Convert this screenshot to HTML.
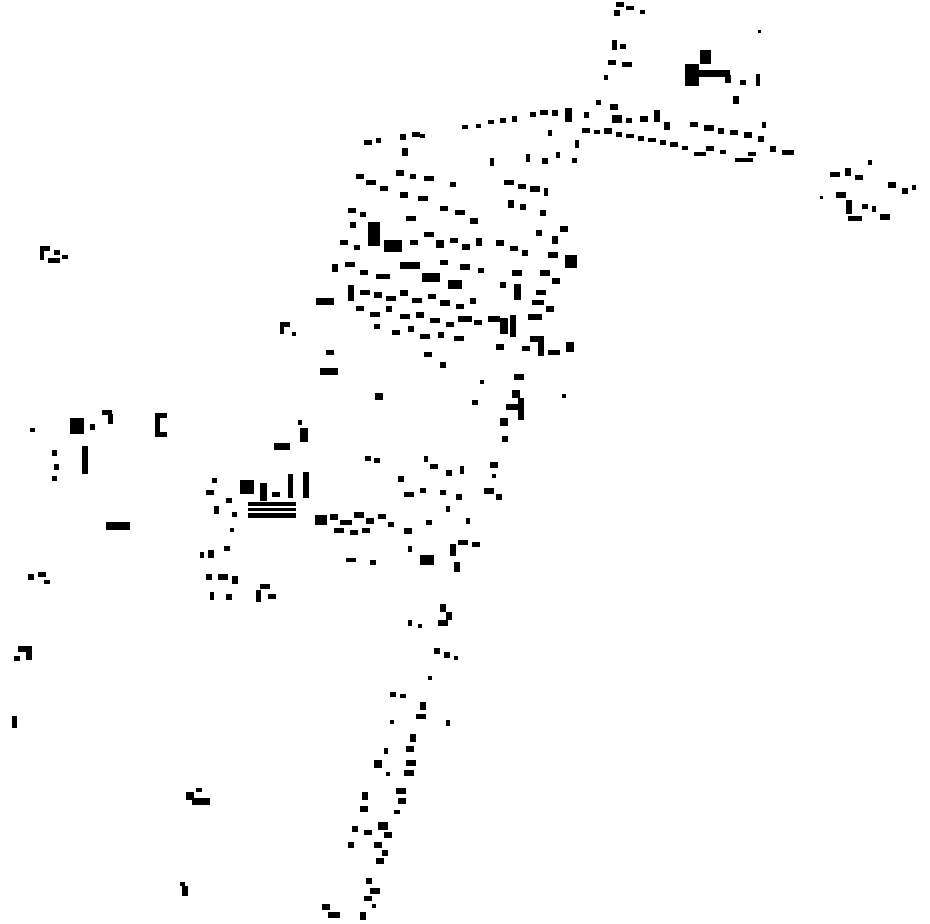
<!DOCTYPE html>
<html><head><meta charset="utf-8"><style>
html,body{margin:0;padding:0;background:#fff;width:930px;height:924px;overflow:hidden}
svg{display:block}
</style></head><body>
<svg width="930" height="924" viewBox="0 0 930 924" xmlns="http://www.w3.org/2000/svg" fill="#000">
<!-- top cluster -->
<rect x="616" y="2" width="8" height="5"/><rect x="626" y="6" width="8" height="4"/><rect x="614" y="10" width="6" height="6"/><rect x="640" y="10" width="5" height="4"/>
<rect x="612" y="40" width="5" height="10"/><rect x="620" y="44" width="6" height="5"/><rect x="608" y="60" width="8" height="5"/><rect x="622" y="62" width="10" height="5"/><rect x="604" y="75" width="4" height="5"/>
<rect x="700" y="50" width="11" height="14"/><rect x="685" y="64" width="14" height="22"/><rect x="698" y="70" width="32" height="7"/><rect x="725" y="75" width="6" height="8"/><rect x="756" y="74" width="4" height="12"/><rect x="740" y="80" width="6" height="5"/><rect x="733" y="96" width="6" height="8"/><rect x="758" y="30" width="3" height="3"/>
<!-- east-west row -->
<rect x="462" y="125" width="6" height="4"/><rect x="476" y="124" width="5" height="4"/><rect x="488" y="120" width="6" height="4"/><rect x="500" y="118" width="6" height="5"/><rect x="512" y="116" width="5" height="6"/><rect x="530" y="112" width="6" height="5"/><rect x="540" y="110" width="8" height="5"/><rect x="552" y="110" width="6" height="6"/><rect x="565" y="108" width="7" height="14"/><rect x="584" y="112" width="5" height="6"/>
<rect x="596" y="100" width="5" height="5"/><rect x="610" y="104" width="8" height="6"/><rect x="612" y="115" width="10" height="8"/><rect x="626" y="118" width="6" height="5"/><rect x="640" y="116" width="8" height="6"/><rect x="654" y="110" width="6" height="12"/><rect x="664" y="122" width="6" height="8"/>
<rect x="582" y="128" width="8" height="5"/><rect x="594" y="130" width="6" height="4"/><rect x="604" y="128" width="8" height="6"/><rect x="616" y="132" width="6" height="5"/><rect x="626" y="134" width="8" height="4"/><rect x="638" y="136" width="6" height="5"/><rect x="648" y="138" width="8" height="4"/><rect x="660" y="140" width="6" height="5"/><rect x="670" y="142" width="8" height="5"/><rect x="682" y="146" width="6" height="4"/><rect x="706" y="146" width="8" height="5"/><rect x="720" y="150" width="6" height="4"/><rect x="748" y="152" width="8" height="4"/>
<rect x="690" y="122" width="8" height="5"/><rect x="704" y="125" width="10" height="6"/><rect x="718" y="128" width="6" height="6"/><rect x="730" y="130" width="8" height="5"/><rect x="744" y="132" width="8" height="6"/><rect x="758" y="136" width="6" height="6"/><rect x="762" y="122" width="4" height="6"/><rect x="770" y="146" width="6" height="6"/><rect x="782" y="150" width="12" height="5"/><rect x="735" y="158" width="18" height="4"/><rect x="694" y="152" width="12" height="4"/>
<rect x="575" y="140" width="4" height="8"/><rect x="572" y="158" width="5" height="5"/>
<!-- right cluster -->
<rect x="830" y="172" width="10" height="5"/><rect x="845" y="168" width="6" height="8"/><rect x="855" y="175" width="8" height="5"/><rect x="868" y="160" width="4" height="5"/><rect x="888" y="182" width="8" height="6"/><rect x="902" y="188" width="6" height="6"/><rect x="912" y="185" width="4" height="5"/>
<rect x="836" y="192" width="10" height="6"/><rect x="846" y="200" width="6" height="14"/><rect x="848" y="216" width="14" height="5"/><rect x="862" y="204" width="6" height="5"/><rect x="872" y="206" width="4" height="6"/><rect x="880" y="214" width="10" height="6"/><rect x="820" y="196" width="3" height="3"/>
<!-- dense central cluster -->
<rect x="364" y="140" width="8" height="5"/><rect x="376" y="138" width="5" height="5"/><rect x="400" y="134" width="6" height="6"/><rect x="412" y="132" width="8" height="5"/><rect x="420" y="134" width="5" height="4"/><rect x="402" y="148" width="6" height="8"/>
<rect x="356" y="174" width="8" height="5"/><rect x="366" y="180" width="10" height="5"/><rect x="380" y="186" width="8" height="5"/><rect x="396" y="170" width="8" height="6"/><rect x="410" y="174" width="6" height="5"/><rect x="424" y="176" width="10" height="5"/><rect x="450" y="182" width="6" height="5"/>
<rect x="400" y="192" width="8" height="6"/><rect x="418" y="196" width="10" height="5"/><rect x="440" y="206" width="8" height="5"/><rect x="455" y="210" width="10" height="5"/><rect x="470" y="218" width="8" height="6"/><rect x="406" y="216" width="10" height="5"/><rect x="348" y="208" width="8" height="5"/><rect x="350" y="222" width="6" height="6"/><rect x="360" y="212" width="6" height="5"/>
<rect x="368" y="222" width="12" height="24"/><rect x="384" y="240" width="18" height="12"/><rect x="340" y="240" width="8" height="5"/><rect x="354" y="245" width="6" height="5"/><rect x="410" y="240" width="8" height="5"/><rect x="424" y="232" width="10" height="5"/><rect x="436" y="240" width="8" height="8"/><rect x="450" y="238" width="8" height="5"/><rect x="462" y="244" width="8" height="6"/><rect x="476" y="238" width="6" height="8"/>
<rect x="332" y="264" width="6" height="8"/><rect x="345" y="262" width="10" height="5"/><rect x="360" y="270" width="8" height="5"/><rect x="376" y="274" width="14" height="5"/><rect x="400" y="262" width="20" height="7"/><rect x="422" y="273" width="18" height="9"/><rect x="448" y="280" width="14" height="9"/><rect x="440" y="260" width="8" height="5"/><rect x="460" y="264" width="10" height="6"/><rect x="478" y="268" width="6" height="5"/>
<rect x="348" y="285" width="6" height="16"/><rect x="360" y="290" width="10" height="5"/><rect x="374" y="292" width="8" height="6"/><rect x="386" y="296" width="10" height="5"/><rect x="400" y="290" width="8" height="6"/><rect x="412" y="298" width="10" height="5"/><rect x="428" y="294" width="8" height="5"/><rect x="440" y="300" width="10" height="6"/><rect x="456" y="304" width="8" height="5"/><rect x="470" y="298" width="6" height="6"/>
<rect x="316" y="298" width="18" height="7"/><rect x="356" y="306" width="8" height="5"/><rect x="370" y="312" width="10" height="5"/><rect x="386" y="306" width="6" height="6"/><rect x="400" y="314" width="10" height="5"/><rect x="416" y="312" width="8" height="6"/><rect x="430" y="318" width="10" height="5"/><rect x="446" y="322" width="8" height="5"/><rect x="458" y="316" width="14" height="6"/><rect x="474" y="320" width="8" height="5"/>
<rect x="374" y="324" width="6" height="5"/><rect x="392" y="330" width="8" height="5"/><rect x="408" y="326" width="6" height="6"/><rect x="420" y="334" width="10" height="5"/><rect x="438" y="332" width="6" height="6"/><rect x="454" y="336" width="10" height="5"/><rect x="424" y="352" width="8" height="5"/><rect x="440" y="362" width="6" height="6"/>
<rect x="490" y="158" width="4" height="8"/><rect x="504" y="180" width="10" height="5"/><rect x="518" y="184" width="8" height="5"/><rect x="530" y="186" width="10" height="6"/><rect x="544" y="188" width="4" height="8"/><rect x="526" y="154" width="4" height="8"/><rect x="542" y="158" width="6" height="6"/><rect x="556" y="152" width="4" height="6"/><rect x="548" y="130" width="4" height="6"/>
<rect x="508" y="200" width="6" height="8"/><rect x="520" y="204" width="6" height="6"/><rect x="540" y="210" width="6" height="6"/><rect x="560" y="226" width="8" height="6"/><rect x="552" y="236" width="6" height="8"/><rect x="536" y="230" width="6" height="6"/>
<rect x="496" y="240" width="8" height="6"/><rect x="510" y="246" width="8" height="5"/><rect x="522" y="250" width="6" height="6"/><rect x="548" y="252" width="10" height="6"/><rect x="565" y="255" width="12" height="13"/><rect x="512" y="270" width="10" height="6"/><rect x="540" y="270" width="10" height="6"/><rect x="552" y="278" width="8" height="6"/><rect x="500" y="282" width="6" height="6"/>
<rect x="514" y="284" width="7" height="16"/><rect x="536" y="290" width="10" height="5"/><rect x="532" y="300" width="12" height="5"/><rect x="546" y="306" width="8" height="6"/><rect x="528" y="314" width="14" height="6"/><rect x="488" y="316" width="12" height="6"/><rect x="500" y="318" width="8" height="16"/><rect x="510" y="315" width="6" height="22"/><rect x="496" y="344" width="8" height="6"/>
<rect x="530" y="336" width="14" height="6"/><rect x="538" y="342" width="6" height="14"/><rect x="522" y="346" width="8" height="5"/><rect x="548" y="350" width="12" height="5"/><rect x="566" y="342" width="8" height="10"/>
<rect x="280" y="322" width="10" height="5"/><rect x="280" y="322" width="4" height="12"/><rect x="292" y="332" width="4" height="4"/><rect x="326" y="350" width="8" height="5"/><rect x="320" y="368" width="18" height="7"/>
<rect x="375" y="393" width="8" height="7"/><rect x="480" y="380" width="4" height="4"/><rect x="562" y="394" width="4" height="4"/>
<!-- column -->
<rect x="514" y="374" width="10" height="6"/><rect x="512" y="390" width="8" height="8"/><rect x="506" y="404" width="12" height="6"/><rect x="518" y="398" width="6" height="22"/><rect x="500" y="418" width="8" height="8"/><rect x="502" y="436" width="6" height="6"/><rect x="472" y="400" width="6" height="5"/><rect x="490" y="462" width="8" height="6"/><rect x="492" y="474" width="4" height="4"/><rect x="484" y="488" width="10" height="6"/><rect x="496" y="494" width="6" height="6"/>
<!-- middle left -->
<rect x="70" y="418" width="14" height="16"/><rect x="90" y="424" width="5" height="6"/><rect x="102" y="410" width="10" height="5"/><rect x="108" y="414" width="5" height="10"/><rect x="30" y="428" width="5" height="4"/>
<rect x="155" y="413" width="12" height="5"/><rect x="155" y="413" width="5" height="22"/><rect x="155" y="432" width="12" height="5"/>
<rect x="82" y="446" width="6" height="28"/><rect x="52" y="450" width="5" height="6"/><rect x="54" y="464" width="5" height="6"/><rect x="52" y="476" width="5" height="5"/>
<rect x="106" y="522" width="24" height="8"/>
<rect x="274" y="443" width="16" height="7"/><rect x="300" y="428" width="8" height="14"/><rect x="298" y="420" width="4" height="5"/>
<rect x="240" y="480" width="14" height="14"/><rect x="260" y="483" width="7" height="18"/><rect x="288" y="474" width="5" height="24"/><rect x="303" y="472" width="6" height="26"/><rect x="272" y="492" width="8" height="5"/>
<rect x="248" y="502" width="48" height="4"/><rect x="248" y="508" width="48" height="3"/><rect x="248" y="513" width="48" height="5"/>
<rect x="212" y="478" width="5" height="5"/><rect x="206" y="490" width="8" height="5"/><rect x="226" y="498" width="6" height="5"/><rect x="214" y="506" width="5" height="8"/><rect x="232" y="512" width="5" height="5"/><rect x="230" y="528" width="4" height="4"/><rect x="200" y="552" width="4" height="6"/><rect x="208" y="550" width="6" height="8"/><rect x="224" y="546" width="6" height="5"/>
<rect x="206" y="574" width="6" height="6"/><rect x="218" y="574" width="10" height="6"/><rect x="232" y="576" width="6" height="8"/><rect x="210" y="592" width="4" height="8"/><rect x="226" y="594" width="6" height="6"/>
<rect x="260" y="584" width="10" height="5"/><rect x="256" y="590" width="5" height="12"/><rect x="268" y="594" width="8" height="5"/>
<!-- cluster south -->
<rect x="365" y="456" width="6" height="5"/><rect x="374" y="458" width="6" height="5"/><rect x="424" y="456" width="4" height="6"/><rect x="430" y="464" width="8" height="5"/><rect x="446" y="470" width="6" height="6"/><rect x="460" y="466" width="4" height="8"/><rect x="398" y="476" width="6" height="6"/><rect x="404" y="492" width="10" height="5"/><rect x="420" y="488" width="6" height="5"/><rect x="440" y="490" width="6" height="5"/><rect x="456" y="494" width="6" height="6"/><rect x="446" y="506" width="4" height="6"/><rect x="466" y="518" width="4" height="6"/><rect x="426" y="520" width="6" height="5"/>
<rect x="315" y="515" width="12" height="10"/><rect x="330" y="514" width="8" height="6"/><rect x="340" y="520" width="12" height="5"/><rect x="354" y="512" width="10" height="6"/><rect x="366" y="518" width="8" height="6"/><rect x="378" y="514" width="8" height="5"/><rect x="334" y="528" width="10" height="5"/><rect x="350" y="530" width="8" height="5"/><rect x="362" y="528" width="8" height="5"/><rect x="388" y="522" width="6" height="5"/><rect x="404" y="528" width="8" height="6"/>
<rect x="346" y="558" width="10" height="4"/><rect x="370" y="560" width="6" height="5"/><rect x="408" y="546" width="4" height="6"/><rect x="420" y="555" width="14" height="10"/>
<rect x="450" y="544" width="6" height="12"/><rect x="458" y="540" width="10" height="5"/><rect x="472" y="542" width="8" height="5"/><rect x="454" y="562" width="6" height="10"/>
<!-- scattered west -->
<rect x="40" y="246" width="10" height="5"/><rect x="40" y="246" width="4" height="14"/><rect x="54" y="250" width="6" height="5"/><rect x="48" y="258" width="12" height="5"/><rect x="62" y="255" width="6" height="4"/>
<rect x="28" y="574" width="6" height="6"/><rect x="38" y="572" width="8" height="5"/><rect x="44" y="580" width="6" height="4"/>
<rect x="18" y="646" width="14" height="6"/><rect x="26" y="650" width="6" height="10"/><rect x="14" y="656" width="6" height="5"/>
<rect x="12" y="716" width="5" height="12"/>
<rect x="186" y="792" width="8" height="8"/><rect x="192" y="798" width="18" height="7"/><rect x="196" y="788" width="6" height="4"/>
<rect x="180" y="882" width="5" height="4"/><rect x="182" y="886" width="6" height="10"/>
<!-- road south -->
<rect x="440" y="604" width="6" height="8"/><rect x="446" y="612" width="6" height="8"/><rect x="438" y="620" width="10" height="6"/><rect x="408" y="620" width="4" height="6"/><rect x="418" y="624" width="4" height="4"/>
<rect x="434" y="648" width="6" height="6"/><rect x="444" y="652" width="6" height="6"/><rect x="454" y="656" width="4" height="4"/><rect x="428" y="676" width="4" height="4"/>
<rect x="390" y="692" width="6" height="5"/><rect x="400" y="694" width="6" height="4"/><rect x="420" y="702" width="6" height="8"/><rect x="416" y="714" width="10" height="5"/><rect x="446" y="720" width="4" height="6"/><rect x="390" y="720" width="4" height="4"/>
<rect x="410" y="734" width="6" height="8"/><rect x="406" y="746" width="8" height="6"/><rect x="384" y="748" width="4" height="6"/><rect x="374" y="760" width="8" height="8"/><rect x="406" y="760" width="10" height="6"/><rect x="404" y="770" width="10" height="6"/><rect x="386" y="772" width="4" height="4"/>
<rect x="362" y="792" width="6" height="8"/><rect x="396" y="788" width="10" height="6"/><rect x="398" y="798" width="8" height="6"/><rect x="360" y="806" width="8" height="6"/><rect x="394" y="810" width="6" height="4"/>
<rect x="378" y="822" width="10" height="8"/><rect x="384" y="832" width="8" height="6"/><rect x="352" y="826" width="6" height="6"/><rect x="364" y="830" width="8" height="5"/><rect x="348" y="842" width="6" height="6"/><rect x="374" y="842" width="8" height="6"/><rect x="382" y="850" width="6" height="6"/><rect x="376" y="858" width="8" height="6"/>
<rect x="366" y="878" width="6" height="6"/><rect x="370" y="888" width="10" height="6"/><rect x="364" y="896" width="8" height="5"/><rect x="322" y="904" width="8" height="6"/><rect x="328" y="912" width="12" height="6"/><rect x="360" y="912" width="6" height="8"/><rect x="372" y="904" width="4" height="4"/>
</svg>
</body></html>
